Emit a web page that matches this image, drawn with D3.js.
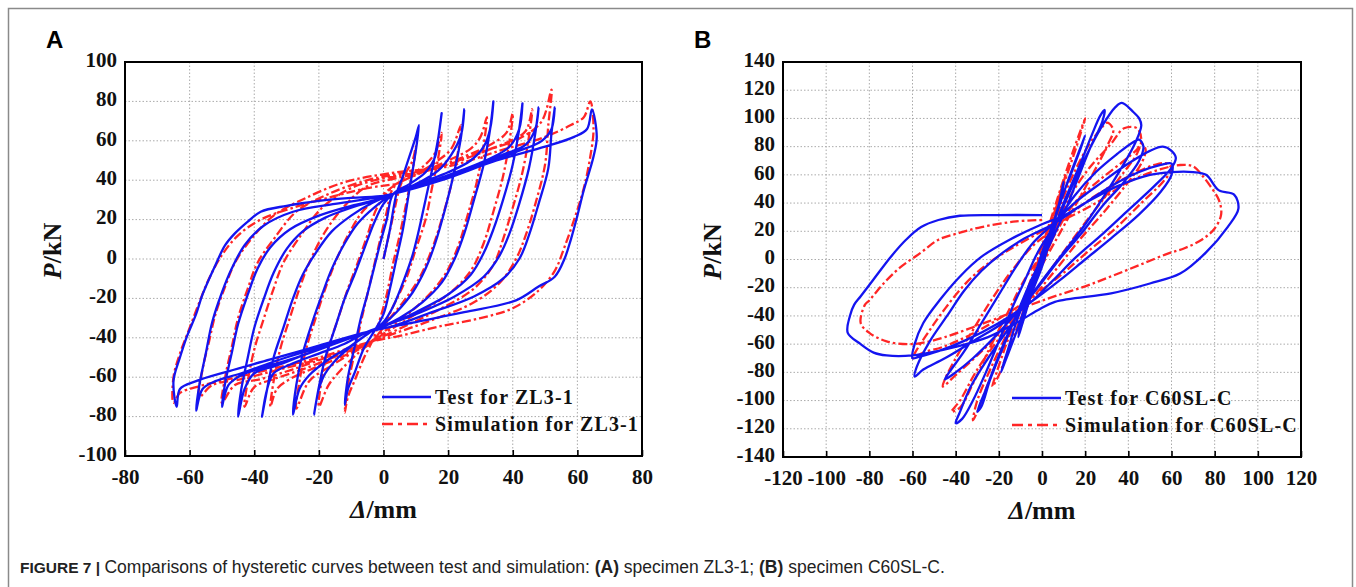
<!DOCTYPE html>
<html>
<head>
<meta charset="utf-8">
<script src="https://cdn.jsdelivr.net/npm/d3@7"></script>
<style>
  body { margin: 0; background: #fff; }
  svg { display: block; }
  .tick text { font-family: "Liberation Serif", "Times New Roman", serif; font-weight: bold; font-size: 21px; fill: #111; }
  .axis-title { font-family: "Liberation Serif", "Times New Roman", serif; font-weight: bold; font-size: 26px; fill: #111; }
  .legend-label { font-family: "Liberation Serif", "Times New Roman", serif; font-weight: bold; font-size: 20px; letter-spacing: 1.1px; fill: #111; }
  .panel-label { font-family: "Liberation Sans", Arial, sans-serif; font-weight: bold; font-size: 24px; fill: #000; }
  .caption { font-family: "Liberation Sans", Arial, sans-serif; font-size: 17.5px; fill: #222; }
</style>
</head>
<body>
<svg id="fig" width="1356" height="587"></svg>
<script>
// ---------- ticks ----------
const xTicksA = [-80, -60, -40, -20, 0, 20, 40, 60, 80];
const yTicksA = [-100, -80, -60, -40, -20, 0, 20, 40, 60, 80, 100];
const xTicksB = [-120, -100, -80, -60, -40, -20, 0, 20, 40, 60, 80, 100, 120];
const yTicksB = [-140, -120, -100, -80, -60, -40, -20, 0, 20, 40, 60, 80, 100, 120, 140];

const legendA = ['Test for ZL3-1', 'Simulation for ZL3-1'];
const legendB = ['Test for C60SL-C', 'Simulation for C60SL-C'];

// ---------- (A) ZL3-1, test, one array per cycle [mm, kN] ----------
const testA = [
  [[0,0],[2,15],[4,33],[6,42],[8,52],[10,62],[11,68],
   [10,55],[8,35],[6,15],[4,0],[2,-15],[0,-28],[-3,-37],
   [-6,-45],[-9,-58],[-11,-66],[-12,-74],
   [-11,-60],[-9,-45],[-7,-30],[-5,-18],[-3,-5],[-1,8],[1,20],[3,33]],
  [[8,38],[13,44],[16,52],[17,62],[18,74],
   [17,62],[15,45],[13,30],[11,15],[9,2],[6,-12],[3,-24],[0,-32],[-4,-37],
   [-9,-43],[-14,-50],[-18,-58],[-20,-66],[-21.5,-79],
   [-20,-65],[-18,-50],[-15,-35],[-12,-20],[-9,-8],[-6,5],[-3,18],[0,28],[3,33]],
  [[10,38],[17,45],[21,53],[24,63],[25,76],
   [24,62],[22,45],[19,25],[16,8],[13,-5],[9,-17],[4,-27],[0,-33],[-4,-37],
   [-10,-44],[-17,-51],[-23,-59],[-26,-66],[-28,-79],
   [-27,-64],[-25,-48],[-22,-32],[-19,-18],[-16,-5],[-12,8],[-8,18],[-3,26],[3,33]],
  [[12,39],[20,44],[27,50],[31,57],[33,66],[34,80],
   [33,66],[31,48],[28,30],[25,13],[22,0],[18,-12],[12,-22],[5,-30],[0,-34],[-5,-37],
   [-12,-43],[-20,-48],[-28,-53],[-34,-58],[-36,-66],[-37.6,-80],
   [-36,-66],[-34,-50],[-31,-35],[-28,-20],[-25,-8],[-21,3],[-16,14],[-10,22],[-4,28],[3,33]],
  [[14,39],[24,45],[33,51],[39,57],[42,66],[43,79],
   [42,66],[40,48],[37,30],[34,15],[31,3],[27,-8],[20,-18],[10,-27],[2,-33],[-5,-37],
   [-15,-43],[-25,-49],[-33,-54],[-40,-58],[-43,-66],[-45,-80],
   [-44,-66],[-42,-50],[-40,-35],[-37,-20],[-34,-7],[-30,5],[-25,14],[-18,21],[-10,26],[0,31],[3,33]],
  [[15,39],[27,46],[37,53],[44,58],[47,66],[48,77],
   [47,64],[45,46],[42,28],[39,13],[36,2],[31,-9],[22,-19],[10,-28],[0,-34],[-5,-37],
   [-15,-43],[-27,-50],[-37,-55],[-44,-59],[-48,-64],[-50,-75],
   [-49,-63],[-47,-48],[-45,-33],[-42,-18],[-39,-5],[-35,6],[-29,15],[-20,22],[-10,27],[0,31],[3,33]],
  [[16,40],[30,48],[42,55],[49,60],[52,66],[53,77],
   [52,64],[51,46],[48,28],[45,12],[42,0],[37,-10],[28,-19],[15,-27],[3,-34],[-5,-37],
   [-18,-44],[-32,-51],[-44,-58],[-52,-62],[-56,-66],[-58,-77],
   [-57,-64],[-55,-48],[-53,-32],[-50,-17],[-47,-5],[-43,7],[-37,17],[-28,24],[-15,28],[-3,31],[3,33]],
  [[18,40],[35,50],[50,57],[59,62],[63,66],[64.5,76],
   [66,62],[65,52],[62,35],[60,22],[58,10],[56,0],[53,-9],[48,-14],[41,-21],[25,-27],[10,-32],[-5,-37],
   [-20,-44],[-35,-51],[-48,-57],[-58,-62],[-63,-66],[-64,-75],
   [-65,-62],[-63,-50],[-61,-40],[-58,-28],[-56,-18],[-52,-3],[-49,7],[-46,13],[-42,19],[-38,24],
   [-30,27],[-20,29.5],[-10,31],[0,32],[3,33]]
];

// ---------- (A) ZL3-1, simulation ----------
const simA = [
  [[0,0],[3,22],[5,36],[7,44],[9,50],[10,57],
   [9,45],[7,28],[5,12],[3,-2],[1,-18],[-1,-30],[-3,-40],
   [-6,-50],[-9,-62],[-11,-70],[-12,-78],
   [-11,-64],[-9,-48],[-7,-32],[-5,-18],[-3,-4],[-1,10],[1,24],[3,36]],
  [[8,42],[13,48],[16,54],[18,64],
   [17,52],[15,36],[13,20],[10,5],[7,-10],[3,-24],[0,-34],[-3,-41],
   [-8,-48],[-13,-56],[-17,-64],[-20,-75],
   [-19,-60],[-17,-45],[-14,-30],[-11,-15],[-8,-2],[-5,12],[-2,26],[3,37]],
  [[10,43],[16,49],[21,56],[24,68],
   [23,54],[21,38],[18,20],[15,5],[11,-10],[6,-22],[1,-32],[-3,-41],
   [-10,-48],[-17,-55],[-23,-62],[-27,-76],
   [-26,-62],[-24,-46],[-21,-30],[-18,-15],[-15,-2],[-11,12],[-6,25],[0,33],[4,38]],
  [[12,44],[20,50],[27,56],[30,62],[32,72],
   [31,58],[29,40],[26,22],[23,6],[19,-8],[13,-20],[6,-30],[0,-37],[-4,-42],
   [-12,-49],[-21,-55],[-29,-61],[-33,-66],[-35,-75],
   [-34,-62],[-32,-46],[-29,-30],[-26,-15],[-23,-2],[-18,14],[-12,27],[-5,37],[4,41]],
  [[14,45],[25,52],[33,58],[38,64],[40,74],
   [39,60],[37,42],[34,24],[31,8],[27,-6],[20,-18],[10,-28],[2,-36],[-4,-42],
   [-14,-49],[-25,-56],[-34,-61],[-40,-65],[-43,-75],
   [-42,-62],[-40,-46],[-37,-30],[-34,-15],[-31,-2],[-26,11],[-19,26],[-10,36],[0,41],[4,42]],
  [[16,46],[28,53],[38,59],[44,65],[46,76],
   [45,62],[43,44],[40,26],[37,10],[34,-3],[28,-15],[18,-25],[8,-33],[-4,-42],
   [-16,-49],[-28,-56],[-38,-61],[-46,-64],[-50,-73],
   [-49,-60],[-47,-45],[-45,-30],[-42,-15],[-39,-2],[-34,10],[-27,24],[-17,33],[-5,40],[4,43]],
  [[18,47],[32,55],[43,62],[49,70],[52,86],
   [51,68],[50,48],[47,28],[44,12],[41,0],[36,-12],[28,-22],[15,-31],[3,-38],[-4,-42],
   [-18,-50],[-32,-56],[-44,-61],[-53,-64],[-57,-70],
   [-56,-56],[-54,-42],[-52,-28],[-49,-14],[-46,-2],[-41,10],[-34,22],[-24,31],[-12,39],[4,44]],
  [[20,47],[36,55],[50,62],[58,68],[62,72],[64,80],
   [65,66],[64,52],[62,36],[59,20],[56,6],[53,-6],[48,-16],[40,-25],[30,-30],[18,-34],[5,-39],[-4,-42],
   [-20,-50],[-35,-56],[-48,-61],[-58,-65],[-63,-68],[-65,-73],
   [-65,-60],[-63,-48],[-60,-35],[-57,-22],[-54,-10],[-50,2],[-45,12],[-38,20],[-28,26],[-15,32],[-5,36],[4,38]]
];

// ---------- (B) C60SL-C, test ----------
const testB = [
  [[0,0],[4,20],[8,40],[10,55],[9,45],[5,25],[0,5],[-4,-15],[-8,-35],[-11,-55],
   [-9,-45],[-5,-25],[0,-5],[3,10]],
  [[7,35],[12,55],[17,75],[20,88],[18,80],[13,60],[8,38],[3,15],[-2,-5],[-7,-25],[-12,-45],[-16,-65],[-19,-80],
   [-17,-72],[-12,-52],[-7,-30],[-2,-10],[3,10]],
  [[10,40],[17,65],[23,88],[27,102],[29,106],[28,98],[22,78],[16,55],[10,32],[4,12],[-2,-8],[-8,-28],[-15,-50],
   [-21,-72],[-26,-92],[-30,-108],[-28,-104],[-24,-85],[-18,-62],[-12,-40],[-6,-18],[0,2],[5,20]],
  [[12,45],[20,72],[28,95],[34,108],[37,111],[42,105],[45,100],[46,95],[43,82],[38,68],[30,48],[20,25],[10,5],
   [0,-15],[-8,-32],[-16,-50],[-25,-70],[-33,-90],[-38,-108],[-40,-116],[-37,-113],[-32,-100],[-26,-80],
   [-20,-58],[-14,-35],[-8,-15],[-2,5],[5,22]],
  [[15,45],[25,62],[35,75],[42,83],[45,85],[47,80],[45,70],[38,55],[28,38],[18,18],[8,0],[-2,-20],[-12,-38],
   [-22,-55],[-32,-70],[-40,-80],[-45,-85],[-43,-80],[-36,-65],[-28,-45],[-20,-25],[-12,-5],[-4,12],[5,25]],
  [[15,40],[28,55],[40,68],[50,77],[56,80],[60,77],[62,72],[60,65],[52,52],[40,35],[28,18],[16,2],[5,-15],
   [-5,-30],[-18,-45],[-32,-58],[-45,-70],[-55,-78],[-59,-83],[-58,-76],[-52,-58],[-44,-40],[-36,-22],
   [-28,-8],[-18,5],[-8,15],[5,25]],
  [[18,38],[32,52],[45,62],[55,67],[60,68],[60,60],[55,48],[45,32],[32,15],[20,0],[8,-15],[-5,-30],[-20,-45],
   [-35,-57],[-48,-65],[-57,-69],[-60,-70],[-59,-60],[-55,-45],[-47,-28],[-38,-12],[-28,2],[-15,14],[0,25],[10,31]],
  [[20,40],[35,52],[50,60],[60,62],[70,62],[76,60],[82,49],[89,46],[91,36],[86,23],[76,5],[64,-10],[50,-17],
   [32,-24],[6,-30],[-2,-36],[-12,-45],[-25,-55],[-40,-62],[-52,-66],[-60,-68],[-72,-68],[-78,-66],[-84,-60],
   [-90,-52],[-89,-40],[-87,-32],[-84,-26],[-78,-14],[-70,2],[-63,14],[-56,23],[-48,28],[-38,31],[-20,31.5],[0,31.5]]
];

// ---------- (B) C60SL-C, simulation ----------
const simB = [
  [[0,0],[4,22],[8,45],[11,60],[9,50],[5,30],[0,8],[-4,-12],[-8,-32],[-11,-52],
   [-9,-44],[-5,-24],[0,-4],[3,10]],
  [[7,38],[12,62],[16,80],[19,95],[20,100],[18,92],[14,75],[9,52],[4,28],[-1,5],[-6,-18],[-12,-42],[-17,-62],
   [-21,-80],[-23,-90],[-20,-82],[-15,-62],[-9,-38],[-3,-15],[3,8]],
  [[9,40],[15,62],[22,82],[27,92],[30,97],[33,92],[30,80],[24,62],[16,40],[8,18],[0,-4],[-8,-28],[-16,-52],
   [-24,-78],[-30,-100],[-32,-114],[-30,-108],[-25,-88],[-18,-62],[-11,-38],[-4,-14],[3,8]],
  [[12,42],[22,65],[32,82],[38,93],[44,93],[46,85],[44,75],[38,62],[28,42],[16,18],[5,-5],[-6,-28],[-18,-52],
   [-30,-78],[-38,-100],[-42,-108],[-38,-105],[-32,-88],[-24,-62],[-16,-38],[-8,-14],[3,10]],
  [[15,40],[28,58],[38,70],[44,78],[46,82],[48,78],[46,68],[40,55],[30,36],[18,15],[6,-8],[-6,-30],[-18,-50],
   [-30,-68],[-40,-82],[-46,-90],[-45,-85],[-40,-70],[-32,-50],[-24,-30],[-14,-8],[-4,10],[6,22]],
  [[18,38],[32,52],[44,62],[52,67],[58,68],[60,64],[56,55],[46,40],[34,22],[20,4],[8,-12],[-6,-28],[-20,-42],
   [-34,-54],[-46,-62],[-55,-66],[-60,-70],[-58,-64],[-52,-50],[-45,-35],[-36,-18],[-26,-4],[-14,8],[0,20],[10,28]],
  [[25,40],[40,55],[55,64],[64,67],[70,66],[74,60],[78,52],[82,42],[83,32],[80,22],[74,14],[66,8],[58,4],
   [45,-4],[32,-12],[20,-19],[6,-26],[-5,-32],[-18,-40],[-32,-48],[-45,-55],[-55,-59],[-62,-60],[-72,-58],
   [-80,-52],[-84,-45],[-82,-32],[-80,-29],[-74,-18],[-66,-6],[-56,5],[-48,14],[-38,19],[-28,23],[-12,27],[0,28]]
];

const TEST_COLOR = '#1414f0';
const SIM_COLOR = '#ff2626';

const svg = d3.select('#fig');

// outer figure frame
svg.append('path')
  .attr('d', 'M8.5,600 L8.5,8.5 L1352.5,8.5 L1352.5,600')
  .attr('fill', 'none')
  .attr('stroke', '#8a8a8a')
  .attr('stroke-width', 1.5);

function drawPanel(cfg) {
  const g = svg.append('g');

  const x = d3.scaleLinear().domain(cfg.xDomain).range([cfg.left, cfg.right]);
  const y = d3.scaleLinear().domain(cfg.yDomain).range([cfg.bottom, cfg.top]);

  // dotted grid
  g.append('g').selectAll('line')
    .data(cfg.xTicks.slice(1, -1))
    .enter().append('line')
    .attr('x1', d => x(d)).attr('x2', d => x(d))
    .attr('y1', cfg.top).attr('y2', cfg.bottom)
    .attr('stroke', '#aaa').attr('stroke-width', 1)
    .attr('stroke-dasharray', '1.5,2');
  g.append('g').selectAll('line')
    .data(cfg.yTicks.slice(1, -1))
    .enter().append('line')
    .attr('x1', cfg.left).attr('x2', cfg.right)
    .attr('y1', d => y(d)).attr('y2', d => y(d))
    .attr('stroke', '#aaa').attr('stroke-width', 1)
    .attr('stroke-dasharray', '1.5,2');

  // clip for curves
  const clipId = 'clip-' + cfg.name;
  svg.append('clipPath').attr('id', clipId)
    .append('rect')
    .attr('x', cfg.left).attr('y', cfg.top)
    .attr('width', cfg.right - cfg.left).attr('height', cfg.bottom - cfg.top);

  const line = d3.line()
    .x(d => x(d[0]))
    .y(d => y(d[1]))
    .curve(d3.curveCatmullRom.alpha(0.5));

  const curves = g.append('g').attr('clip-path', `url(#${clipId})`);

  curves.append('path')
    .datum(cfg.sim.flat())
    .attr('d', line)
    .attr('fill', 'none')
    .attr('stroke', SIM_COLOR)
    .attr('stroke-width', 2.3)
    .attr('stroke-dasharray', '9,3,2.5,3');

  curves.append('path')
    .datum(cfg.test.flat())
    .attr('d', line)
    .attr('fill', 'none')
    .attr('stroke', TEST_COLOR)
    .attr('stroke-width', 2.3)
    .attr('stroke-linejoin', 'round');

  // axes
  const xAxis = d3.axisBottom(x).tickValues(cfg.xTicks).tickSize(-6).tickPadding(13).tickFormat(d3.format('d'));
  const gx = g.append('g')
    .attr('transform', `translate(0,${cfg.bottom})`)
    .call(xAxis);
  gx.select('.domain').remove();
  gx.selectAll('.tick line').attr('stroke', '#000').attr('stroke-width', 1.6);
  gx.selectAll('.tick text').text(d => d < 0 ? '-' + Math.abs(d) : d);

  const yAxis = d3.axisLeft(y).tickValues(cfg.yTicks).tickSize(0).tickPadding(8);
  const gy = g.append('g')
    .attr('transform', `translate(${cfg.left},0)`)
    .call(yAxis);
  gy.select('.domain').remove();
  gy.selectAll('.tick text').text(d => d < 0 ? '-' + Math.abs(d) : d).attr('dy', '0.2em');

  // plot frame
  g.append('rect')
    .attr('x', cfg.left).attr('y', cfg.top)
    .attr('width', cfg.right - cfg.left).attr('height', cfg.bottom - cfg.top)
    .attr('fill', 'none').attr('stroke', '#000').attr('stroke-width', 2);

  // axis titles
  const xt = g.append('text')
    .attr('class', 'axis-title')
    .attr('x', (cfg.left + cfg.right) / 2)
    .attr('y', cfg.bottom + 62)
    .attr('text-anchor', 'middle');
  xt.append('tspan').attr('font-style', 'italic').text('Δ');
  xt.append('tspan').text('/mm');

  const yt = g.append('text')
    .attr('class', 'axis-title')
    .attr('transform', `translate(${cfg.left - cfg.yTitleOffset},${(cfg.top + cfg.bottom) / 2 - 8}) rotate(-90)`)
    .attr('text-anchor', 'middle');
  yt.append('tspan').attr('font-style', 'italic').text('P');
  yt.append('tspan').text('/kN');

  // panel letter
  g.append('text')
    .attr('class', 'panel-label')
    .attr('x', cfg.letterX).attr('y', 48)
    .text(cfg.name);

  // legend
  const lg = g.append('g').attr('transform', `translate(${cfg.legendX},${cfg.legendY})`);
  lg.append('line')
    .attr('x1', 0).attr('x2', 49).attr('y1', 0).attr('y2', 0)
    .attr('stroke', TEST_COLOR).attr('stroke-width', 2.4);
  lg.append('text').attr('class', 'legend-label')
    .attr('x', 53).attr('y', 7).text(cfg.legend[0]);
  lg.append('line')
    .attr('x1', 0).attr('x2', 49).attr('y1', 27).attr('y2', 27)
    .attr('stroke', SIM_COLOR).attr('stroke-width', 2.4)
    .attr('stroke-dasharray', '11,5,4,5');
  lg.append('text').attr('class', 'legend-label')
    .attr('x', 53).attr('y', 34).text(cfg.legend[1]);
}

drawPanel({
  name: 'A', left: 125, right: 642, top: 62, bottom: 456,
  xDomain: [-80, 80], yDomain: [-100, 100],
  xTicks: xTicksA, yTicks: yTicksA,
  test: testA, sim: simA, legend: legendA,
  legendX: 382, legendY: 397, letterX: 46, yTitleOffset: 64
});

drawPanel({
  name: 'B', left: 783, right: 1301, top: 62, bottom: 457,
  xDomain: [-120, 120], yDomain: [-140, 140],
  xTicks: xTicksB, yTicks: yTicksB,
  test: testB, sim: simB, legend: legendB,
  legendX: 1012, legendY: 398, letterX: 694, yTitleOffset: 62
});

// caption
const cap = svg.append('text').attr('class', 'caption').attr('x', 20).attr('y', 573);
cap.append('tspan').attr('font-weight', 'bold').attr('font-size', '15.5px').text('FIGURE 7 | ');
cap.append('tspan').text('Comparisons of hysteretic curves between test and simulation: ');
cap.append('tspan').attr('font-weight', 'bold').text('(A)');
cap.append('tspan').text(' specimen ZL3-1; ');
cap.append('tspan').attr('font-weight', 'bold').text('(B)');
cap.append('tspan').text(' specimen C60SL-C.');
</script>
</body>
</html>
